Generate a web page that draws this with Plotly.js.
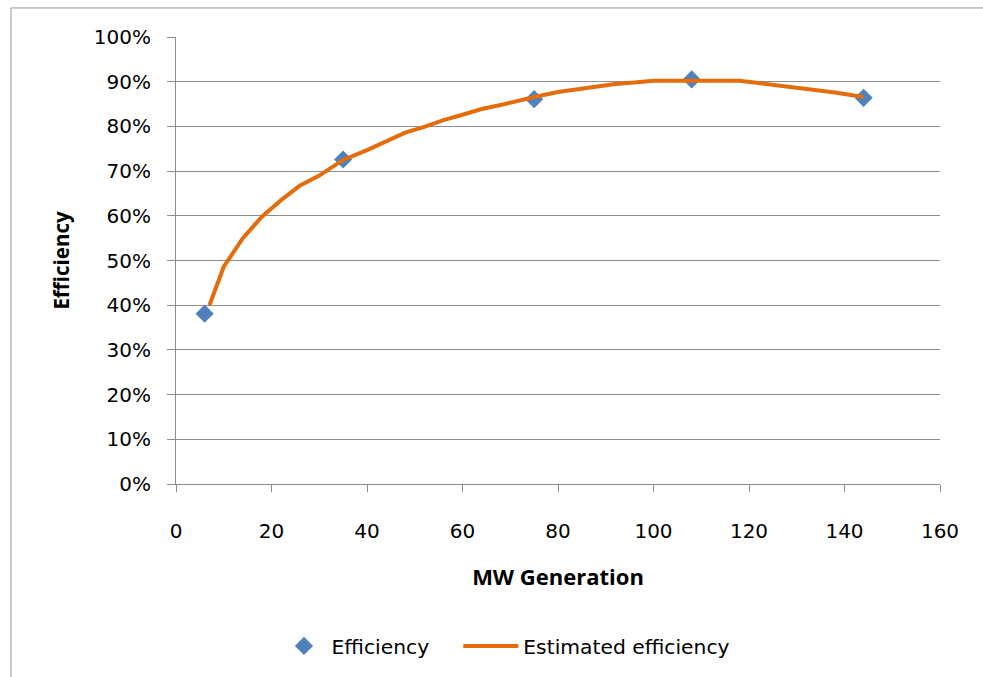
<!DOCTYPE html>
<html>
<head>
<meta charset="utf-8">
<script src="https://cdn.plot.ly/plotly-3.0.1.min.js"></script>
<style>
  html, body { margin: 0; padding: 0; background: #ffffff; }
  #chart { width: 983px; height: 677px; }
</style>
</head>
<body>
<div id="chart"></div>
<script>
// Measured efficiency points
var measuredMW = [6, 35, 75, 108, 144];
var measuredEff = [0.381, 0.726, 0.861, 0.905, 0.864];

// Estimated efficiency curve
var estimatedMW = [7, 10, 14, 18, 22, 26, 30, 35, 40, 44, 48, 52, 56, 60, 64, 68, 72, 76, 80, 84, 88, 92, 96, 100, 104, 108, 112, 116, 118, 122, 126, 130, 134, 138, 142, 144];
var estimatedEff = [0.40, 0.486, 0.55, 0.598, 0.635, 0.668, 0.69, 0.725, 0.747, 0.767, 0.786, 0.799, 0.814, 0.826, 0.839, 0.848, 0.859, 0.868, 0.877, 0.883, 0.888, 0.895, 0.898, 0.902, 0.902, 0.902, 0.902, 0.902, 0.902, 0.897, 0.892, 0.887, 0.882, 0.876, 0.869, 0.866];

var seriesNames = ["Efficiency", "Estimated efficiency"];
var xTitle = "MW Generation";
var yTitle = "Efficiency";

var gridColor = "#8c8c8c";
var tickFont = { family: "DejaVu Sans", size: 20, color: "#000000" };
var legendFont = { family: "DejaVu Sans", size: 20.3, color: "#000000" };

var traces = [
  {
    x: measuredMW, y: measuredEff, name: seriesNames[0],
    type: "scatter", mode: "markers", legend: "legend",
    marker: { symbol: "diamond", size: 14, color: "#4F81BD" }
  },
  {
    x: estimatedMW, y: estimatedEff, name: seriesNames[1],
    type: "scatter", mode: "lines", legend: "legend2",
    line: { color: "#E46C0A", width: 4, shape: "linear" }
  }
];

var layout = {
  width: 983, height: 677,
  margin: { l: 176, r: 43, t: 37, b: 193, autoexpand: false },
  paper_bgcolor: "#ffffff", plot_bgcolor: "#ffffff",
  showlegend: true,
  xaxis: {
    range: [0, 160], dtick: 20, tick0: 0, automargin: false,
    showgrid: false, zeroline: false,
    showline: true, linecolor: gridColor, linewidth: 1,
    ticks: "outside", ticklen: 7, tickcolor: gridColor,
    tickfont: tickFont, ticklabelstandoff: 22,
    title: { text: xTitle, font: { family: "Open Sans", size: 22, color: "#000000", weight: "bold" }, standoff: 27 },
    fixedrange: true
  },
  yaxis: {
    range: [0, 1], dtick: 0.1, tick0: 0, tickformat: ".0%", automargin: false,
    showgrid: true, gridcolor: gridColor, gridwidth: 1, zeroline: false,
    showline: true, linecolor: gridColor, linewidth: 1,
    ticks: "outside", ticklen: 8, tickcolor: gridColor,
    tickfont: tickFont, ticklabelstandoff: 12,
    title: { text: yTitle, font: { family: "Open Sans", size: 20.5, color: "#000000", weight: "bold" }, standoff: 18 },
    fixedrange: true
  },
  legend: {
    orientation: "h", x: 0.1315, xanchor: "left", y: -0.363, yanchor: "middle",
    font: legendFont, itemwidth: 45, bgcolor: "rgba(0,0,0,0)"
  },
  legend2: {
    orientation: "h", x: 0.3695, xanchor: "left", y: -0.363, yanchor: "middle",
    font: legendFont, itemwidth: 55, bgcolor: "rgba(0,0,0,0)"
  },
  shapes: [
    {
      type: "rect", xref: "paper", yref: "paper",
      x0: -0.216, x1: 1.2, y0: -0.6, y1: 1.065,
      line: { color: "#9a9a9a", width: 1 }, fillcolor: "rgba(0,0,0,0)", layer: "below"
    }
  ]
};

Plotly.newPlot("chart", traces, layout, { displayModeBar: false, staticPlot: true });
</script>
</body>
</html>
